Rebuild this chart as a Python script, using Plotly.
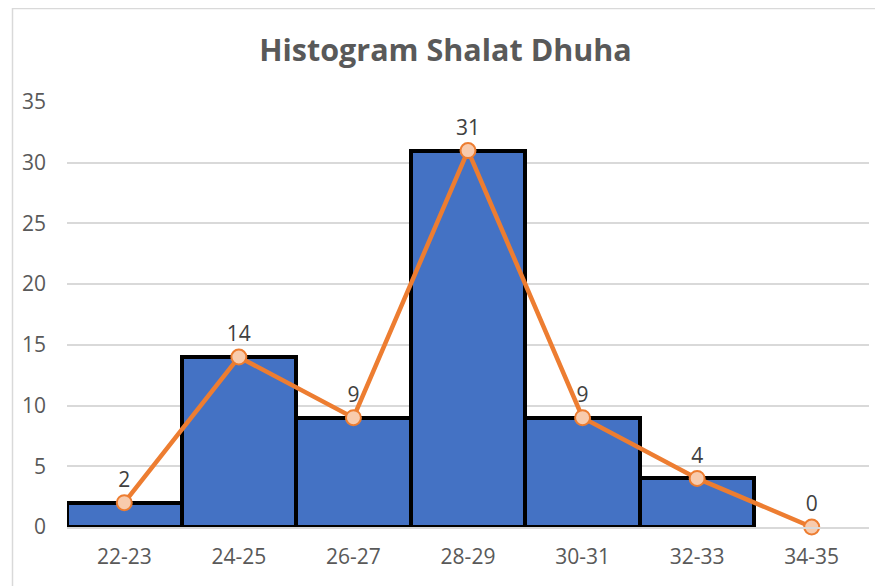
import plotly.graph_objects as go

# data
kelas = ['22-23', '24-25', '26-27', '28-29', '30-31', '32-33', '34-35']
frekuensi = [2, 14, 9, 31, 9, 4, 0]
y_ticks = [0, 5, 10, 15, 20, 25, 30, 35]

# bars only where there is a count (the empty class shows just the polygon point)
bar_x = [k for k, f in zip(kelas, frekuensi) if f > 0]
bar_y = [f for f in frekuensi if f > 0]

W, H = 875, 578  # page body keeps an 8px margin

fig = go.Figure()

fig.add_trace(go.Bar(
    x=bar_x, y=bar_y,
    marker=dict(color='#4472C4', line=dict(color='black', width=4)),
    width=1, showlegend=False, hoverinfo='skip'
))

# frequency polygon
fig.add_trace(go.Scatter(
    x=kelas, y=frekuensi,
    mode='lines+markers+text',
    line=dict(color='#ED7D31', width=4.5),
    marker=dict(size=15, color='#F8CBAD', line=dict(color='#ED7D31', width=2)),
    text=[str(f) for f in frekuensi],
    textposition='top center',
    textfont=dict(family='Open Sans, sans-serif', size=21, color='#404040'),
    showlegend=False, cliponaxis=False
))

fig.update_layout(
    width=W, height=H,
    margin=dict(l=59, r=14, t=94, b=59),
    paper_bgcolor='white', plot_bgcolor='white',
    bargap=0,
    font=dict(family='Open Sans, sans-serif', color='#595959'),
    title=dict(
        text='<b>Histogram Shalat Dhuha</b>',
        x=0.5, xref='container', xanchor='center',
        y=1 - 42 / H, yref='container', yanchor='middle',
        font=dict(family='Open Sans, sans-serif', size=30.5, color='#595959')
    ),
    xaxis=dict(
        categoryorder='array', categoryarray=kelas,
        range=[-0.5, len(kelas) - 0.5],
        showgrid=False, showline=True, linecolor='#D9D9D9', linewidth=1.5,
        ticks='', tickfont=dict(size=21, color='#595959'),
        ticklabelstandoff=10, fixedrange=True
    ),
    yaxis=dict(
        range=[0, 35], tickvals=y_ticks,
        showgrid=True, gridcolor='#D9D9D9', gridwidth=1.5,
        zeroline=False, showline=False, ticks='',
        tickfont=dict(size=21, color='#595959'),
        ticklabelstandoff=20, fixedrange=True
    ),
    shapes=[dict(
        type='rect', xref='paper', yref='paper',
        x0=-54.5 / 802, x1=1.2, y0=-0.3, y1=1 + 93.5 / 425,
        line=dict(color='#D9D9D9', width=1.5), layer='below'
    )]
)

fig.write_html("out.html")
